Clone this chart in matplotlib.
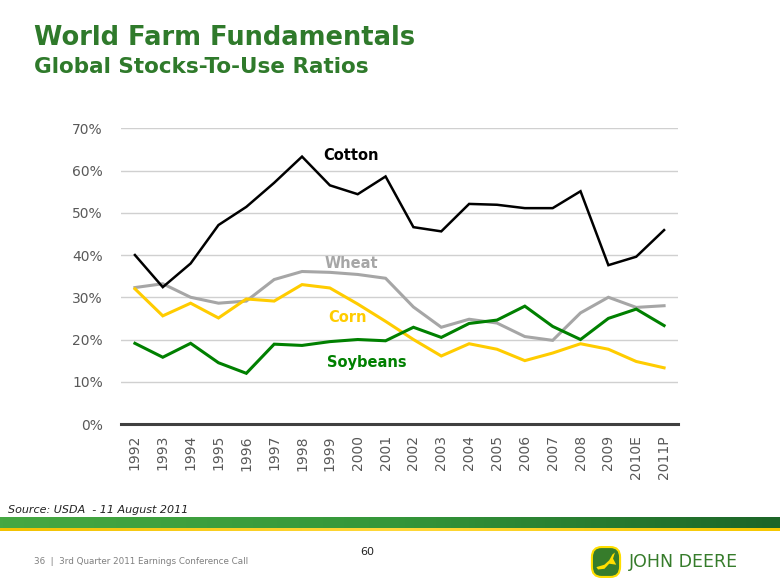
import numpy as np
import matplotlib
matplotlib.use("Agg")
import matplotlib.pyplot as plt
from matplotlib.colors import LinearSegmentedColormap
from matplotlib.patches import FancyBboxPatch, Polygon

# === Data (stocks-to-use ratio, %) ===
YEARS = ["1992", "1993", "1994", "1995", "1996", "1997", "1998", "1999", "2000",
         "2001", "2002", "2003", "2004", "2005", "2006", "2007", "2008", "2009",
         "2010E", "2011P"]
COTTON = [40.0, 32.4, 38.0, 47.1, 51.4, 57.1, 63.3, 56.5, 54.4, 58.6,
          46.6, 45.6, 52.1, 51.9, 51.1, 51.1, 55.1, 37.6, 39.6, 45.9]
WHEAT = [32.3, 33.2, 30.0, 28.6, 29.1, 34.2, 36.1, 35.9, 35.4, 34.5,
         27.7, 22.9, 24.8, 23.9, 20.7, 19.8, 26.3, 30.0, 27.6, 28.0]
CORN = [32.0, 25.6, 28.6, 25.1, 29.6, 29.1, 33.0, 32.2, 28.4, 24.3,
        20.0, 16.1, 19.0, 17.7, 15.0, 16.8, 19.0, 17.7, 14.8, 13.3]
SOYBEANS = [19.1, 15.8, 19.1, 14.5, 12.0, 18.9, 18.6, 19.5, 20.0, 19.7,
            22.9, 20.5, 23.8, 24.6, 27.9, 23.1, 20.0, 25.0, 27.2, 23.3]
Y_TICKS = [0, 10, 20, 30, 40, 50, 60, 70]

W, H = 780, 585
GREEN_TXT = "#2F7A2B"


def fx(px):
    return px / W


def fy(py):
    return 1 - py / H


fig = plt.figure(figsize=(W / 100, H / 100), dpi=100)
fig.patch.set_facecolor("white")

# ---- main chart ----
ax = fig.add_axes([fx(121), fy(424), fx(678) - fx(121), fy(128.3) - fy(424)])
x = np.arange(len(YEARS))
series = [
    (WHEAT, "#A6A6A6", 2.2),
    (CORN, "#FFCC00", 2.2),
    (SOYBEANS, "#008000", 2.2),
    (COTTON, "#000000", 1.8),
]
for vals, col, lw in series:
    ax.plot(x, vals, color=col, linewidth=lw, solid_joinstyle="miter")

ax.set_xlim(-0.5, len(YEARS) - 0.5)
ax.set_ylim(0, 70)
ax.set_yticks(Y_TICKS)
ax.set_yticklabels([f"{v}%" for v in Y_TICKS])
ax.set_xticks(x)
ax.set_xticklabels(YEARS, rotation=90)
ax.tick_params(axis="both", length=0, labelsize=10, colors="#595959")
ax.tick_params(axis="y", pad=13)
ax.tick_params(axis="x", pad=8)
ax.grid(True, axis="y", color="#D0D0D0", linewidth=1.0)
ax.set_axisbelow(True)
for s in ["top", "right", "left"]:
    ax.spines[s].set_visible(False)
ax.spines["bottom"].set_color("#404040")
ax.spines["bottom"].set_linewidth(2.2)

# series labels
lab_kw = dict(fontsize=10.5, fontweight="bold", ha="left", va="center")
fig.text(fx(323), fy(156), "Cotton", color="#000000", **lab_kw)
fig.text(fx(325), fy(263), "Wheat", color="#A6A6A6", **lab_kw)
fig.text(fx(328), fy(318), "Corn", color="#FFCC00", **lab_kw)
fig.text(fx(327), fy(363), "Soybeans", color="#008000", **lab_kw)

# ---- titles ----
fig.text(fx(34), fy(45), "World Farm Fundamentals", color=GREEN_TXT,
         fontsize=18.5, fontweight="bold", ha="left", va="baseline")
fig.text(fx(34), fy(73), "Global Stocks-To-Use Ratios", color=GREEN_TXT,
         fontsize=15.5, fontweight="bold", ha="left", va="baseline")

# ---- source + banner ----
fig.text(fx(8), fy(513), "Source: USDA  - 11 August 2011", color="#222222",
         fontsize=8, style="italic", ha="left", va="baseline")

band = fig.add_axes([0, fy(528), 1, fy(517) - fy(528)])
cmap = LinearSegmentedColormap.from_list("band", ["#46A843", "#35973A", "#1C6528"])
band.imshow(np.linspace(0, 1, 256)[None, :], aspect="auto", cmap=cmap,
            extent=[0, 1, 0, 1])
band.axis("off")
ystrip = fig.add_axes([0, fy(531), 1, fy(528) - fy(531)])
cmap_y = LinearSegmentedColormap.from_list("ystrip", ["#F2C200", "#FFD83A", "#F5C800"])
ystrip.imshow(np.linspace(0, 1, 256)[None, :], aspect="auto", cmap=cmap_y,
              extent=[0, 1, 0, 1])
ystrip.axis("off")

# ---- footer ----
fig.text(fx(34), fy(562), "36  |  3rd Quarter 2011 Earnings Conference Call",
         color="#7F7F7F", fontsize=6.3, ha="left", va="center")
fig.text(fx(367), fy(552), "60", color="#222222", fontsize=8, ha="center", va="center")

# John Deere logo
logo = fig.add_axes([fx(590), fy(579), fx(622) - fx(590), fy(545) - fy(579)])
logo.set_xlim(0, 1)
logo.set_ylim(0, 1)
logo.axis("off")
logo.add_patch(FancyBboxPatch((0.06, 0.06), 0.88, 0.88,
                              boxstyle="round,pad=0,rounding_size=0.3",
                              facecolor="#367C2B", edgecolor="#FFDE00", linewidth=1.5))
deer = [(0.2, 0.35), (0.45, 0.42), (0.6, 0.55), (0.7, 0.72), (0.78, 0.78),
        (0.72, 0.6), (0.82, 0.42), (0.6, 0.45), (0.45, 0.3), (0.25, 0.28)]
logo.add_patch(Polygon(deer, closed=True, facecolor="#FFDE00", edgecolor="none"))
fig.text(fx(629), fy(562), "JOHN DEERE", color="#367C2B", fontsize=12.5,
         ha="left", va="center")

fig.savefig("out.png", dpi=100)
